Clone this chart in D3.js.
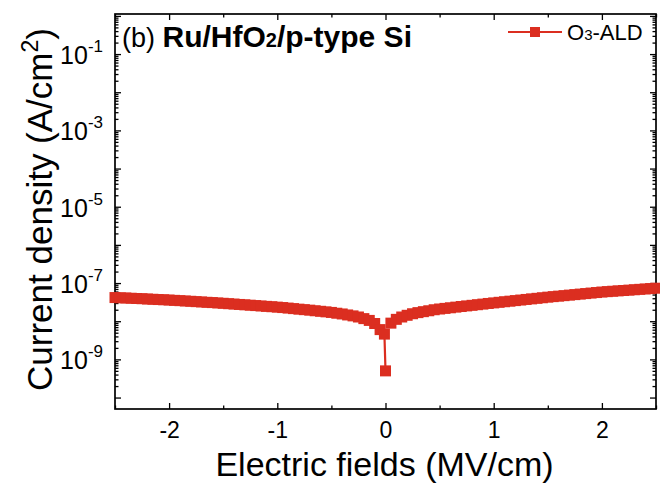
<!DOCTYPE html>
<html>
<head>
<meta charset="utf-8">
<script src="https://cdn.jsdelivr.net/npm/d3@7"></script>
<style>
  body { margin: 0; background: #fff; }
  text { font-family: "Liberation Sans", Arial, sans-serif; }
</style>
</head>
<body>
<svg id="chart" width="660" height="485"></svg>
<script>
// negative sweep, field in MV/cm, current in 1e-8 A/cm^2
const fieldNeg = [-2.5, -2.45, -2.4, -2.35, -2.3, -2.25, -2.2, -2.15, -2.1, -2.05,
  -2.0, -1.95, -1.9, -1.85, -1.8, -1.75, -1.7, -1.65, -1.6, -1.55,
  -1.5, -1.45, -1.4, -1.35, -1.3, -1.25, -1.2, -1.15, -1.1, -1.05,
  -1.0, -0.95, -0.9, -0.85, -0.8, -0.75, -0.7, -0.65, -0.6, -0.55,
  -0.5, -0.45, -0.4, -0.35, -0.3, -0.25, -0.2, -0.15, -0.1, -0.05, -0.01, 0];
const currentNeg = [4.17, 4.11, 4.06, 4.00, 3.94, 3.89, 3.82, 3.76, 3.70, 3.65,
  3.59, 3.52, 3.46, 3.39, 3.33, 3.26, 3.20, 3.13, 3.08, 3.01,
  2.95, 2.88, 2.82, 2.75, 2.69, 2.63, 2.57, 2.51, 2.45, 2.40,
  2.34, 2.28, 2.21, 2.14, 2.07, 2.01, 1.95, 1.88, 1.82, 1.76,
  1.70, 1.62, 1.55, 1.46, 1.38, 1.29, 1.17, 1.05, 0.871, 0.603, 0.46, 0.05];

// positive sweep
const fieldPos = [0.05, 0.1, 0.15, 0.2, 0.25, 0.3, 0.35, 0.4, 0.45, 0.5,
  0.55, 0.6, 0.65, 0.7, 0.75, 0.8, 0.85, 0.9, 0.95, 1.0,
  1.05, 1.1, 1.15, 1.2, 1.25, 1.3, 1.35, 1.4, 1.45, 1.5,
  1.55, 1.6, 1.65, 1.7, 1.75, 1.8, 1.85, 1.9, 1.95, 2.0,
  2.05, 2.1, 2.15, 2.2, 2.25, 2.3, 2.35, 2.4, 2.45, 2.5];
const currentPos = [0.891, 1.12, 1.29, 1.43, 1.57, 1.68, 1.78, 1.88, 2.00, 2.09,
  2.17, 2.25, 2.34, 2.43, 2.52, 2.61, 2.71, 2.81, 2.92, 3.02,
  3.13, 3.24, 3.35, 3.47, 3.59, 3.72, 3.85, 3.98, 4.12, 4.27,
  4.41, 4.54, 4.68, 4.83, 4.98, 5.14, 5.30, 5.47, 5.64, 5.82,
  5.96, 6.10, 6.24, 6.38, 6.53, 6.68, 6.84, 7.00, 7.16, 7.33];

const xMajor = [-2, -1, 0, 1, 2];
const xMinor = [-2.5, -1.5, -0.5, 0.5, 1.5, 2.5];
const yExponents = [-10, -9, -8, -7, -6, -5, -4, -3, -2, -1, 0];
const yLabelExponents = [-9, -7, -5, -3, -1];

const red = "#db2e20";
const margin = { top: 14, right: 4, bottom: 76, left: 115 };
const svg = d3.select("#chart");
const W = +svg.attr("width"), H = +svg.attr("height");
const w = W - margin.left - margin.right;
const h = H - margin.top - margin.bottom;

const x = d3.scaleLinear().domain([-2.5, 2.5]).range([0, w]);
const y = d3.scaleLog().domain([Math.pow(10, -10.3), Math.pow(10, 0.05)]).range([h, 0]);

const g = svg.append("g").attr("transform", `translate(${margin.left},${margin.top})`);

// log minor ticks 2..9 for every decade
const yMinor = [];
yExponents.forEach((e) => {
  for (let k = 2; k <= 9; k++) {
    const v = k * Math.pow(10, e);
    if (v >= y.domain()[0] && v <= y.domain()[1]) yMinor.push(v);
  }
});
const yMajor = yExponents.map((e) => Math.pow(10, e)).filter((v) => v >= y.domain()[0] && v <= y.domain()[1]);

function styleAxis(sel) {
  sel.select(".domain").remove();
  sel.selectAll("line").attr("stroke", "#000").attr("stroke-width", 1.3);
}

// bottom + top
g.append("g").attr("transform", `translate(0,${h})`)
  .call(d3.axisBottom(x).tickValues(xMajor).tickSize(-6).tickPadding(13).tickFormat(d3.format("d")))
  .call(styleAxis)
  .call((a) => a.selectAll("text").attr("font-size", 23).attr("fill", "#000")
    .attr("font-family", "Liberation Sans, Arial, sans-serif")
    .text((d) => (d < 0 ? "-" + Math.abs(d) : d)));
g.append("g").attr("transform", `translate(0,${h})`)
  .call(d3.axisBottom(x).tickValues(xMinor).tickSize(-3.5).tickFormat(""))
  .call(styleAxis);
g.append("g")
  .call(d3.axisTop(x).tickValues(xMajor).tickSize(-6).tickFormat(""))
  .call(styleAxis);
g.append("g")
  .call(d3.axisTop(x).tickValues(xMinor).tickSize(-3.5).tickFormat(""))
  .call(styleAxis);

// left + right
g.append("g")
  .call(d3.axisLeft(y).tickValues(yMajor).tickSize(-6).tickFormat(""))
  .call(styleAxis);
g.append("g")
  .call(d3.axisLeft(y).tickValues(yMinor).tickSize(-3.5).tickFormat(""))
  .call(styleAxis);
g.append("g").attr("transform", `translate(${w},0)`)
  .call(d3.axisRight(y).tickValues(yMajor).tickSize(-6).tickFormat(""))
  .call(styleAxis);
g.append("g").attr("transform", `translate(${w},0)`)
  .call(d3.axisRight(y).tickValues(yMinor).tickSize(-3.5).tickFormat(""))
  .call(styleAxis);

// y tick labels 10^n
const yl = g.append("g").selectAll("text").data(yLabelExponents).join("text")
  .attr("x", -12)
  .attr("y", (d) => y(Math.pow(10, d)) + 10)
  .attr("text-anchor", "end")
  .attr("font-size", 25)
  .attr("fill", "#000");
yl.append("tspan").text("10");
yl.append("tspan").attr("dy", -12).attr("font-size", 17).text((d) => "-" + Math.abs(d));

// frame
g.append("rect").attr("width", w).attr("height", h)
  .attr("fill", "none").attr("stroke", "#000").attr("stroke-width", 1.7);

// data
const series = [
  fieldNeg.map((f, i) => ({ f, j: currentNeg[i] * 1e-8 })),
  fieldPos.map((f, i) => ({ f, j: currentPos[i] * 1e-8 })),
];
const line = d3.line().x((d) => x(d.f)).y((d) => y(d.j));
const plot = g.append("g");
series.forEach((s) => {
  plot.append("path").datum(s).attr("d", line)
    .attr("fill", "none").attr("stroke", red).attr("stroke-width", 2.2);
  plot.selectAll(null).data(s).join("rect")
    .attr("x", (d) => x(d.f) - 5.5)
    .attr("y", (d) => y(d.j) - 5.5)
    .attr("width", 11).attr("height", 11)
    .attr("fill", red);
});

// annotation
const ann = g.append("text").attr("x", 7).attr("y", 33).attr("font-size", 30).attr("fill", "#000");
ann.append("tspan").attr("font-size", 27).text("(b) ");
ann.append("tspan").attr("font-weight", "bold").text("Ru/HfO");
ann.append("tspan").attr("font-weight", "bold").attr("font-size", 20).text("2");
ann.append("tspan").attr("font-weight", "bold").text("/p-type Si");

// legend
const lg = svg.append("g").attr("transform", "translate(508,32)");
lg.append("line").attr("x1", 0).attr("x2", 54).attr("stroke", red).attr("stroke-width", 2.2);
lg.append("rect").attr("x", 22).attr("y", -5).attr("width", 10).attr("height", 10).attr("fill", red);
const lt = lg.append("text").attr("x", 59).attr("y", 8).attr("font-size", 22).attr("fill", "#000");
lt.append("tspan").text("O");
lt.append("tspan").attr("font-size", 15).text("3");
lt.append("tspan").text("-ALD");

// axis titles
svg.append("text").attr("x", margin.left + w / 2 - 1).attr("y", 476)
  .attr("text-anchor", "middle").attr("font-size", 34).attr("fill", "#000")
  .text("Electric fields (MV/cm)");
const yt = svg.append("text")
  .attr("transform", `translate(52,${margin.top + h / 2 - 2}) rotate(-90)`)
  .attr("text-anchor", "middle").attr("font-size", 35).attr("fill", "#000");
yt.append("tspan").text("Current density (A/cm");
yt.append("tspan").attr("dy", -14).attr("font-size", 23).text("2");
yt.append("tspan").attr("dy", 14).text(")");
</script>
</body>
</html>
